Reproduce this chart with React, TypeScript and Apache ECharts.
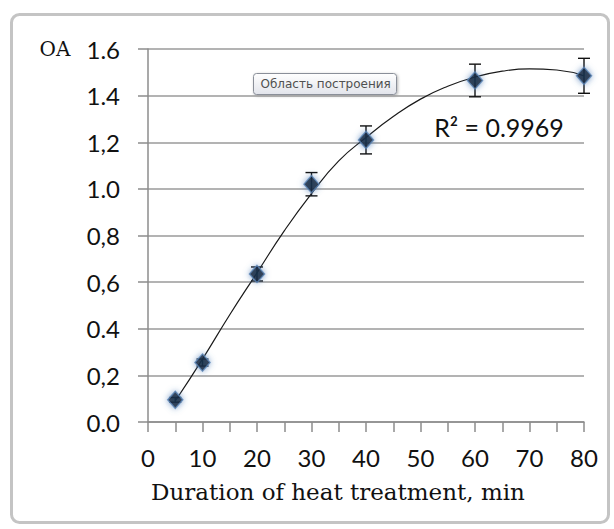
import React, { useEffect, useRef } from "react";
import * as echarts from "echarts";

const xValues = [5, 10, 20, 30, 40, 60, 80];
const oaValues = [0.095, 0.255, 0.635, 1.02, 1.21, 1.465, 1.485];
const errValues = [0.01, 0.015, 0.03, 0.05, 0.06, 0.07, 0.075];
const trendX = [5, 10, 15, 20, 25, 30, 35, 40, 45, 50, 55, 60, 65, 70, 75, 80];
const trendY = [0.09, 0.27, 0.46, 0.64, 0.82, 0.98, 1.12, 1.22, 1.31, 1.385, 1.44, 1.48, 1.505, 1.515, 1.51, 1.485];
const yTickLabels = ["0.0", "0,2", "0.4", "0,6", "0,8", "1.0", "1,2", "1.4", "1.6"];
const xTickLabels = ["0", "10", "20", "30", "40", "50", "60", "70", "80"];
const yAxisName = "OA";
const xAxisName = "Duration of heat treatment, min";
const r2Text = "R² = 0.9969";
const hintText = "Область построения";

export default function App() {
  const ref = useRef<HTMLDivElement>(null);
  useEffect(() => {
    const chart = echarts.init(ref.current!, null, { renderer: "svg" });
    const tickFont = { fontFamily: "Lato", fontSize: 24, color: "#111" };
    chart.setOption({
      animation: false,
      backgroundColor: "#ffffff",
      grid: { left: 148, top: 49, width: 436, height: 373 },
      xAxis: {
        type: "value",
        min: 0,
        max: 80,
        interval: 10,
        axisLine: { show: true, lineStyle: { color: "#8c8c8c", width: 1.5 } },
        axisTick: { show: true, length: 10, lineStyle: { color: "#8c8c8c", width: 1.5 } },
        minorTick: { show: true, splitNumber: 2, length: 10, lineStyle: { color: "#8c8c8c", width: 1.5 } },
        splitLine: { show: false },
        axisLabel: {
          ...tickFont,
          margin: 23,
          formatter: (v: number) => xTickLabels[Math.round(v / 10)] ?? "",
        },
      },
      yAxis: {
        type: "value",
        min: 0,
        max: 1.6,
        interval: 0.2,
        axisLine: { show: true, lineStyle: { color: "#8c8c8c", width: 1.5 } },
        axisTick: { show: true, length: 10, lineStyle: { color: "#8c8c8c", width: 1.5 } },
        splitLine: { show: true, lineStyle: { color: "#9a9a9a", width: 1.6 } },
        axisLabel: {
          ...tickFont,
          margin: 28,
          formatter: (v: number) => yTickLabels[Math.round(v / 0.2)] ?? "",
        },
      },
      series: [
        {
          type: "line",
          data: trendX.map((x, i) => [x, trendY[i]]),
          smooth: 0.5,
          showSymbol: false,
          symbol: "none",
          lineStyle: { color: "#1a1a1a", width: 1.2 },
          z: 3,
        },
        {
          type: "custom",
          data: xValues.map((x, i) => [x, oaValues[i], errValues[i]]),
          renderItem: (params: any, api: any) => {
            const x = api.value(0);
            const y = api.value(1);
            const e = api.value(2);
            const top = api.coord([x, y + e]);
            const bot = api.coord([x, y - e]);
            const w = 6;
            const st = { stroke: "#111", lineWidth: 1.4 };
            return {
              type: "group",
              children: [
                { type: "line", shape: { x1: top[0], y1: top[1], x2: bot[0], y2: bot[1] }, style: st },
                { type: "line", shape: { x1: top[0] - w, y1: top[1], x2: top[0] + w, y2: top[1] }, style: st },
                { type: "line", shape: { x1: bot[0] - w, y1: bot[1], x2: bot[0] + w, y2: bot[1] }, style: st },
              ],
            };
          },
          z: 4,
        },
        {
          type: "scatter",
          data: xValues.map((x, i) => [x, oaValues[i]]),
          symbol: "diamond",
          symbolSize: [15, 17],
          itemStyle: {
            color: "#06121f",
            borderColor: "#5b86b8",
            borderWidth: 1.5,
            shadowBlur: 6,
            shadowColor: "rgba(70,120,180,0.8)",
          },
          z: 5,
        },
      ],
      graphic: [
        {
          type: "rect",
          left: 9,
          top: 12,
          shape: { width: 597, height: 508, r: 8 },
          style: { fill: "none", stroke: "#c4c4c4", lineWidth: 3 },
          silent: true,
        },
        {
          type: "text",
          x: 55,
          y: 49,
          style: {
            text: yAxisName,
            font: "20px 'DejaVu Serif'",
            fill: "#111",
            textAlign: "center",
            textVerticalAlign: "middle",
          },
        },
        {
          type: "text",
          x: 338,
          y: 492,
          style: {
            text: xAxisName,
            font: "23px 'DejaVu Serif'",
            fill: "#111",
            textAlign: "center",
            textVerticalAlign: "middle",
          },
        },
        {
          type: "text",
          x: 499,
          y: 127,
          style: {
            text: r2Text,
            font: "25px Lato",
            fill: "#111",
            textAlign: "center",
            textVerticalAlign: "middle",
          },
        },
        {
          type: "group",
          left: 253,
          top: 73,
          children: [
            {
              type: "rect",
              shape: { x: 0, y: 0, width: 143, height: 21, r: 3 },
              style: {
                fill: new echarts.graphic.LinearGradient(0, 0, 0, 1, [
                  { offset: 0, color: "#ffffff" },
                  { offset: 1, color: "#e2e4eb" },
                ]),
                stroke: "#8a8f99",
                lineWidth: 1,
                shadowBlur: 3,
                shadowOffsetX: 1,
                shadowOffsetY: 1,
                shadowColor: "rgba(0,0,0,0.3)",
              },
            },
            {
              type: "text",
              x: 7,
              y: 4,
              style: { text: hintText, font: "12px 'DejaVu Sans'", fill: "#505050" },
            },
          ],
        },
      ],
    });
    return () => chart.dispose();
  }, []);
  return (
    <div
      ref={ref}
      style={{ position: "fixed", left: 0, top: 0, width: 614, height: 529 }}
    />
  );
}
